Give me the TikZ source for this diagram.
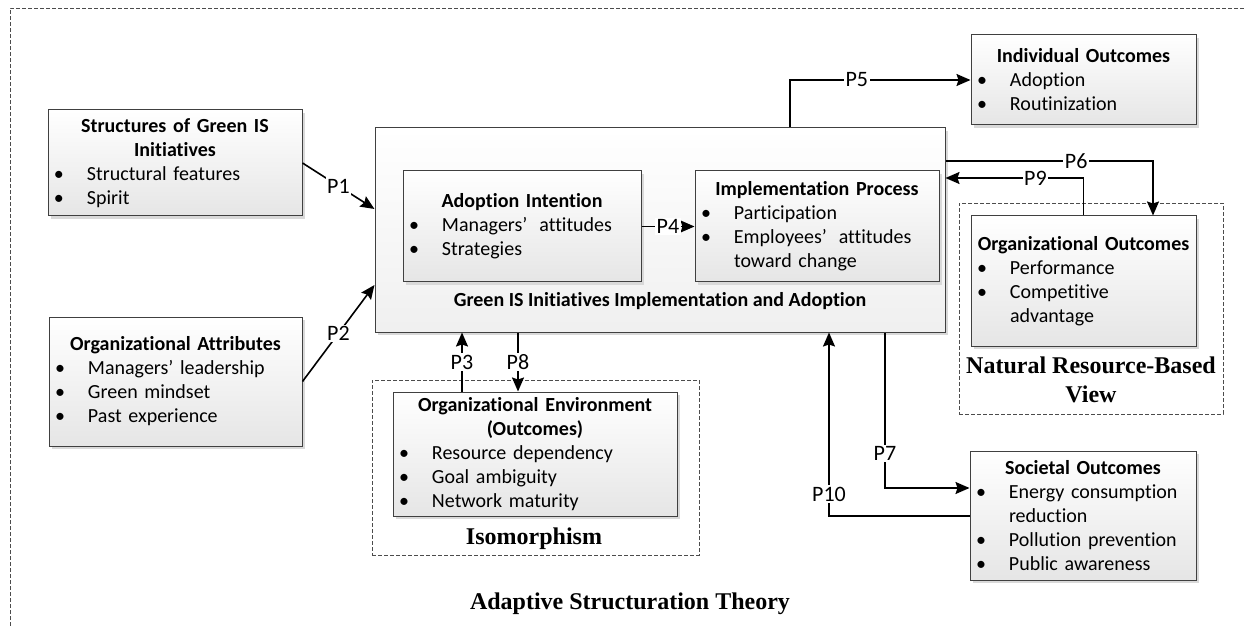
\documentclass[tikz,border=0pt]{standalone}
\usepackage{fontspec}
\setmainfont{Carlito}[Ligatures=CommonOff]
\newfontfamily\theoryfont{Liberation Serif}
\usetikzlibrary{arrows.meta,shadows}
\definecolor{boxline}{gray}{0.25}
\definecolor{boxshade}{gray}{0.9}
\definecolor{mainshade}{gray}{0.94}
\definecolor{shadowgray}{gray}{0.85}
\newcommand{\bitem}[1]{\par\noindent\hangindent=16.5pt\hangafter=1\makebox[16.5pt][l]{\textbullet}#1}
\newcommand{\btitle}[1]{{\centering\bfseries #1\par}}
\tikzset{
  conbox/.style={draw=boxline, line width=0.5pt, top color=white, bottom color=boxshade,
    drop shadow={shadow xshift=1.5pt, shadow yshift=-1.5pt, fill=shadowgray, opacity=1},
    inner xsep=3pt, inner ysep=0pt, execute at begin node={\raggedright},
    font=\fontsize{10}{12}\selectfont},
  region/.style={draw=black!70, line width=0.4pt, dash pattern=on 2pt off 1pt},
  conn/.style={line width=0.8pt, -{Stealth[length=7pt,width=6pt,inset=1pt]}},
  plabel/.style={fill=white, inner sep=0.8pt, font=\fontsize{11}{13}\selectfont},
  theory/.style={font=\theoryfont\bfseries\fontsize{12}{14.5}\selectfont, align=center},
}

\begin{document}
\begin{tikzpicture}[x=0.5pt,y=-0.5pt]
  \useasboundingbox (0,0) rectangle (1244,626);
  % outer frame (AST)
  \draw[region] (10,626) |- (1244,8);
  \node[theory] (ast) at (630,604) {Adaptive Structuration Theory};
  % theory regions
  \node[region, minimum width=163.5pt, minimum height=87.5pt] (iso) at (535.5,467.5) {};
  \node[theory] (isolabel) at (534,539) {Isomorphism};
  \node[region, minimum width=132pt, minimum height=105.5pt] (nrbv) at (1091,308.5) {};
  \node[theory] (nrbvlabel) at (1091,380) {Natural Resource-Based\\View};
  % central box
  \node[conbox, bottom color=mainshade, minimum width=285pt, minimum height=102pt] (main) at (660,230) {};
  \node[font=\bfseries\fontsize{10}{12}\selectfont] (maintitle) at (660,301)
    {Green IS Initiatives Implementation and Adoption};
  \node[conbox, text width=113pt, minimum height=55.5pt] (intent) at (522,226.5) {%
    \btitle{Adoption Intention}
    \bitem{Managers’\hspace{0.6em}attitudes}
    \bitem{Strategies}\par};
  \node[conbox, text width=116pt, minimum height=55.5pt] (implem) at (817,226.5) {%
    \btitle{Implementation Process}
    \bitem{Participation}
    \bitem{Employees’\hspace{0.6em}attitudes\newline toward change}\par};
  % antecedents
  \node[conbox, text width=121pt, minimum height=53pt] (struct) at (175,163) {%
    \btitle{Structures of Green IS\\Initiatives}
    \bitem{Structural features}
    \bitem{Spirit}\par};
  \node[conbox, text width=120.5pt, minimum height=64.5pt] (orgattr) at (175.5,381.5) {%
    \btitle{Organizational Attributes}
    \bitem{Managers’ leadership}
    \bitem{Green mindset}
    \bitem{Past experience}\par};
  % outcomes
  \node[conbox, text width=136pt, minimum height=62pt] (orgenv) at (535,454) {%
    \btitle{Organizational Environment\\(Outcomes)}
    \bitem{Resource dependency}
    \bitem{Goal ambiguity}
    \bitem{Network maturity}\par};
  \node[conbox, text width=106.5pt, minimum height=45pt] (indiv) at (1083.5,80) {%
    \btitle{Individual Outcomes}
    \bitem{Adoption}
    \bitem{Routinization}\par};
  \node[conbox, text width=106.5pt, minimum height=65pt] (orgout) at (1083.5,281) {%
    \btitle{Organizational Outcomes}
    \bitem{Performance}
    \bitem{Competitive\newline advantage}\par};
  \node[conbox, text width=107pt, minimum height=64.5pt] (soc) at (1083,515.5) {%
    \btitle{Societal Outcomes}
    \bitem{Energy consumption\newline reduction}
    \bitem{Pollution prevention}
    \bitem{Public awareness}\par};
  % bends of the propositions
  \coordinate (p3) at (462,362);
  \coordinate (p8) at (518,362);
  \coordinate (p5bend) at (790,80);
  \coordinate (p6bend) at (1153,161);
  \coordinate (p9bend) at (1083,178);
  \coordinate (p7bend) at (885,488);
  \coordinate (p10bend) at (829,516);
  % propositions
  \draw[conn] (struct.east) -- node[plabel]{P1} ([yshift=10.5pt]main.west);
  \draw[conn] (orgattr.east) -- node[plabel]{P2} ([yshift=-27.5pt]main.west);
  \draw[conn] (p3 |- orgenv.north) -- node[plabel]{P3} (p3 |- main.south);
  \draw[conn] (intent.east) -- node[plabel]{P4} (implem.west);
  \draw[conn] (p5bend |- main.north) |- node[plabel, pos=0.685]{P5} (indiv.west);
  \draw[conn] (main.east |- p6bend) -- node[plabel, pos=0.63]{P6} (p6bend) -- (p6bend |- orgout.north);
  \draw[conn] (p7bend |- main.south) -- node[plabel, pos=0.78]{P7} (p7bend) -- (p7bend -| soc.west);
  \draw[conn] (p8 |- main.south) -- node[plabel]{P8} (p8 |- orgenv.north);
  \draw[conn] (orgout.north) |- node[plabel, pos=0.674]{P9} (main.east |- p9bend);
  \draw[conn] (soc.west |- p10bend) -| node[plabel, pos=0.56]{P10} (p10bend |- main.south);
\end{tikzpicture}
\end{document}
